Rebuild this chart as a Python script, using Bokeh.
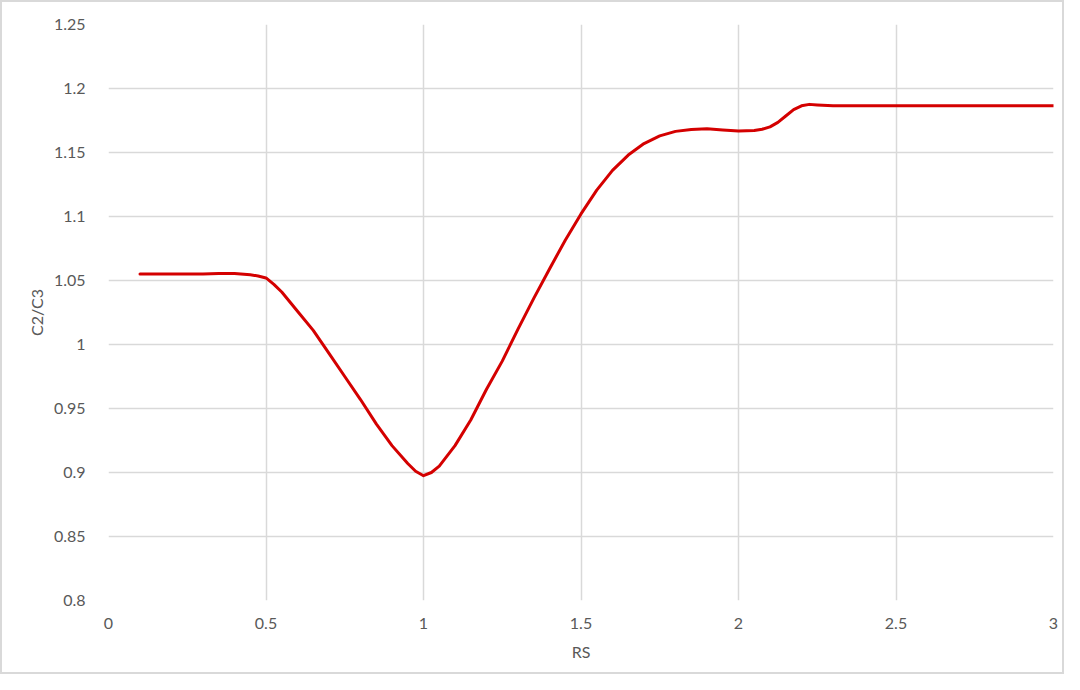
from bokeh.plotting import figure
from bokeh.models import FixedTicker, Range1d
from bokeh.embed import file_html
from bokeh.resources import INLINE

# data
rs = [0.10, 0.15, 0.20, 0.25, 0.30, 0.35, 0.40, 0.45, 0.475, 0.50, 0.525, 0.55, 0.60, 0.65,
      0.70, 0.75, 0.80, 0.85, 0.90, 0.95, 0.975, 1.00, 1.025, 1.05, 1.10, 1.15, 1.20, 1.25,
      1.30, 1.35, 1.40, 1.45, 1.50, 1.55, 1.60, 1.65, 1.70, 1.75, 1.80, 1.85, 1.90, 1.95,
      2.00, 2.05, 2.075, 2.10, 2.125, 2.15, 2.175, 2.20, 2.225, 2.25, 2.30, 2.40, 2.50,
      2.60, 2.70, 2.80, 2.90, 3.00]
c2_c3 = [1.055, 1.055, 1.055, 1.055, 1.055, 1.0555, 1.0555, 1.0545, 1.0535, 1.052, 1.047,
         1.041, 1.026, 1.011, 0.993, 0.975, 0.957, 0.938, 0.921, 0.907, 0.901, 0.8975,
         0.900, 0.905, 0.921, 0.941, 0.965, 0.987, 1.012, 1.036, 1.059, 1.0815, 1.102,
         1.1206, 1.136, 1.148, 1.157, 1.163, 1.1665, 1.168, 1.1685, 1.1676, 1.1668, 1.1672,
         1.1682, 1.170, 1.1735, 1.1785, 1.1835, 1.1865, 1.1876, 1.1872, 1.1866, 1.1865,
         1.1865, 1.1865, 1.1865, 1.1865, 1.1865, 1.1865]

x_ticks = [0, 0.5, 1, 1.5, 2, 2.5, 3]
x_tick_labels = ["0", "0.5", "1", "1.5", "2", "2.5", "3"]
y_ticks = [0.8, 0.85, 0.9, 0.95, 1.0, 1.05, 1.1, 1.15, 1.2, 1.25]
y_tick_labels = ["0.8", "0.85", "0.9", "0.95", "1", "1.05", "1.1", "1.15", "1.2", "1.25"]

FONT = "Lato"
LABEL_COLOR = "#595959"
GRID = "#d9d9d9"

p = figure(width=1064, height=674, output_backend="svg", toolbar_location=None,
           x_range=Range1d(0, 3), y_range=Range1d(0.8, 1.25),
           min_border_left=106, min_border_right=13, min_border_top=22, min_border_bottom=76,
           background_fill_color="white", border_fill_color="white")
p.outline_line_color = None

p.line(rs, c2_c3, line_color="#d40000", line_width=3, line_join="round", line_cap="round")

p.xaxis.ticker = FixedTicker(ticks=x_ticks)
p.yaxis.ticker = FixedTicker(ticks=y_ticks)
p.xaxis.major_label_overrides = {t: l for t, l in zip(x_ticks, x_tick_labels)}
p.yaxis.major_label_overrides = {t: l for t, l in zip(y_ticks, y_tick_labels)}

for ax in (p.xaxis, p.yaxis):
    ax.axis_line_color = None
    ax.major_tick_line_color = None
    ax.minor_tick_line_color = None
    ax.major_label_text_font = FONT
    ax.major_label_text_font_size = "16px"
    ax.major_label_text_color = LABEL_COLOR
    ax.axis_label_text_font = FONT
    ax.axis_label_text_font_size = "16px"
    ax.axis_label_text_font_style = "normal"
    ax.axis_label_text_color = LABEL_COLOR

p.xaxis.axis_label = "RS"
p.yaxis.axis_label = "C2/C3"
p.xaxis.major_label_standoff = 11
p.yaxis.major_label_standoff = 17
p.xaxis.axis_label_standoff = 10
p.yaxis.axis_label_standoff = 5

p.xgrid.ticker = FixedTicker(ticks=x_ticks)
p.ygrid.ticker = FixedTicker(ticks=y_ticks)
for g in (p.xgrid, p.ygrid):
    g.grid_line_color = GRID
    g.grid_line_width = 1.5

p.styles = {"border": "2px solid #d9d9d9", "box-sizing": "border-box"}

open("out.html", "w").write(file_html(p, INLINE))
